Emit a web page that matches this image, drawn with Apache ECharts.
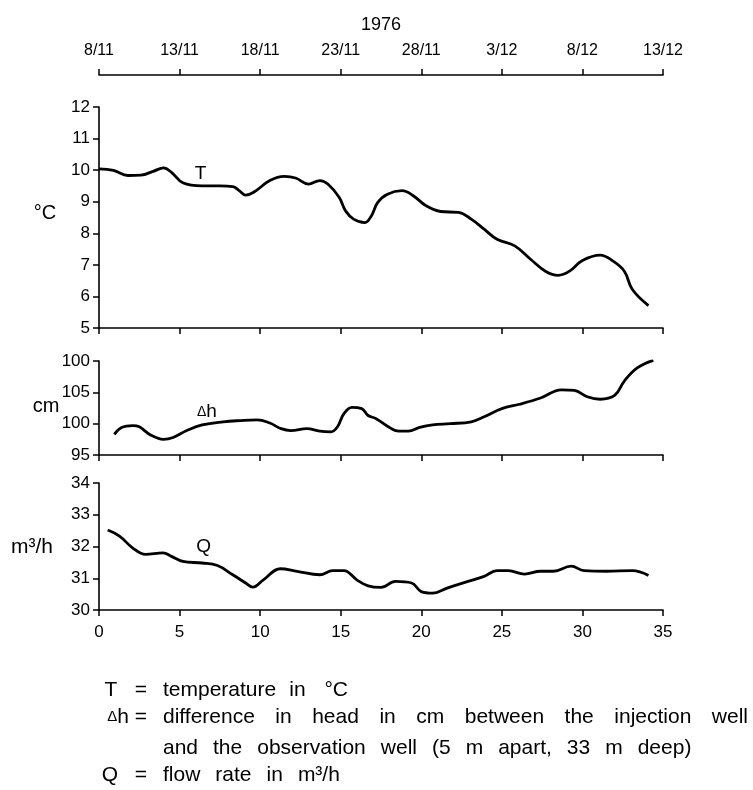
<!DOCTYPE html>
<html><head><meta charset="utf-8">
<script src="https://cdn.jsdelivr.net/npm/echarts@6/dist/echarts.min.js"></script>
<style>html,body{margin:0;padding:0;background:#fff}#c{width:753px;height:790px}</style>
</head><body><div id="c"></div>
<script>
// ---- data ----
const dateLabels = ['8/11','13/11','18/11','23/11','28/11','3/12','8/12','13/12'];
const dhTickLabels = ['95','100','105','100'];

const tDays = [0,0.9,1.8,2.6,3.4,4.0,4.5,5.2,6.4,7.5,8.3,8.7,9.1,9.6,10.6,11.5,12.2,13.0,13.7,14.2,14.9,15.3,15.8,16.5,16.9,17.3,17.9,18.8,19.5,20.3,21.2,22.3,23.1,23.9,24.7,25.8,26.8,27.7,28.5,29.2,30.0,31.1,31.9,32.6,33.1,34.1];
const tValues = [10.04,9.99,9.83,9.84,9.97,10.07,9.93,9.6,9.5,9.5,9.48,9.35,9.21,9.3,9.67,9.8,9.75,9.56,9.67,9.56,9.14,8.71,8.45,8.34,8.55,8.98,9.24,9.35,9.19,8.87,8.69,8.66,8.45,8.13,7.81,7.6,7.17,6.8,6.67,6.8,7.14,7.31,7.12,6.8,6.22,5.71];

const dhDays = [0.95,1.4,2.1,2.5,3.2,4.0,4.6,5.45,6.4,7.7,8.8,9.8,10.6,11.3,11.9,12.9,13.7,14.4,14.8,15.2,15.7,16.3,16.7,17.2,17.9,18.6,19.2,19.9,20.7,21.8,23.1,23.9,25.0,26.1,27.4,28.7,29.5,30.3,31.1,32.0,32.6,33.4,34.4];
const dhValues = [98.3,99.4,99.7,99.5,98.2,97.5,97.8,98.9,99.8,100.3,100.5,100.6,100.1,99.2,98.9,99.2,98.8,98.7,99.5,101.6,102.6,102.4,101.3,100.8,99.6,98.8,98.8,99.4,99.8,100.0,100.3,101.1,102.4,103.1,104.1,105.4,105.3,104.3,103.9,104.5,106.8,108.9,110.1];

const qDays = [0.54,1.27,2.08,2.89,3.97,4.5,5.2,6.4,7.35,8.3,9.1,9.55,10.2,11.25,12.3,13.7,14.5,15.2,16.0,16.7,17.5,18.4,19.4,20.0,20.7,21.6,22.9,23.9,24.7,25.4,26.4,27.4,28.2,29.3,30.1,31.5,33.1,34.1];
const qValues = [32.52,32.33,31.96,31.75,31.80,31.69,31.53,31.48,31.40,31.11,30.85,30.72,30.95,31.3,31.22,31.11,31.24,31.24,30.95,30.76,30.71,30.9,30.85,30.58,30.53,30.69,30.9,31.06,31.24,31.24,31.13,31.22,31.22,31.38,31.24,31.22,31.24,31.09];

// ---- chart ----
const FONT = '"Liberation Sans", Arial, sans-serif';
function pairs(xs, ys) { return xs.map((x, i) => [x, ys[i]]); }
const line = { lineStyle: { color: '#000', width: 1.6 } };
const tick = { show: true, length: 6, lineStyle: { color: '#000', width: 1.5 } };

function xAx(grid, extra) {
  return Object.assign({
    type: 'value', gridIndex: grid, min: 0, max: 35, interval: 5,
    axisLine: line, axisTick: tick, splitLine: { show: false },
    axisLabel: { show: false }
  }, extra || {});
}
function yAx(grid, min, max, interval, fmt) {
  return {
    type: 'value', gridIndex: grid, min: min, max: max, interval: interval,
    axisLine: Object.assign({ show: true }, line), axisTick: tick, splitLine: { show: false },
    axisLabel: { color: '#000', fontSize: 17, fontFamily: FONT, margin: 9, formatter: fmt }
  };
}
function curve(name, xi, yi, xs, ys, lbl, coord) {
  return {
    name: name, type: 'line', xAxisIndex: xi, yAxisIndex: yi,
    data: pairs(xs, ys), smooth: 0.4, showSymbol: false, symbol: 'none',
    lineStyle: { color: '#000', width: 2.8 }, animation: false, silent: true,
    markPoint: {
      symbol: 'circle', symbolSize: 1, itemStyle: { color: 'rgba(0,0,0,0)' }, silent: true,
      label: { show: true, position: 'inside', formatter: lbl, color: '#000', fontSize: 19, fontFamily: FONT,
        rich: { d: { fontSize: 14, fontFamily: FONT, color: '#000' }, n: { fontSize: 19, fontFamily: FONT, color: '#000' } } },
      data: [{ coord: coord }]
    }
  };
}

// legend layout helper (word placement)
const mctx = document.createElement('canvas').getContext('2d');
function words(list, x0, y, size, gap, justifyTo) {
  mctx.font = size + 'px ' + FONT;
  const w = list.map(s => mctx.measureText(s).width);
  let g = gap;
  if (justifyTo) {
    const tot = w.reduce((a, b) => a + b, 0);
    g = (justifyTo - x0 - tot) / (list.length - 1);
  }
  const out = []; let x = x0;
  list.forEach((s, i) => {
    out.push({ type: 'text', x: x, y: y, silent: true,
      style: { text: s, fontSize: size, fontFamily: FONT, fill: '#000', align: 'left', verticalAlign: 'middle' } });
    x += w[i] + g;
  });
  return out;
}
function txt(s, x, y, size, align, rich) {
  return { type: 'text', x: x, y: y, silent: true,
    style: { text: s, fontSize: size, fontFamily: FONT, fill: '#000', align: align || 'center', verticalAlign: 'middle', rich: rich } };
}

const LS = 21, GAP = 15, X0 = 163;
const graphics = [
  txt('°C', 45, 213, 20), txt('cm', 46, 406, 20), txt('m³/h', 32, 547, 21),
  txt('T', 111, 690, LS), txt('=', 141, 690, LS),
  txt('{d|Δ}h', 129, 717, LS, 'right', { d: { fontSize: 15, fontFamily: FONT, fill: '#000' } }), txt('=', 141, 717, LS),
  txt('Q', 110, 775, LS), txt('=', 141, 775, LS)
].concat(
  words(['temperature', 'in', ' °C'], X0, 690, LS, 13),
  words(['difference', 'in', 'head', 'in', 'cm', 'between', 'the', 'injection', 'well'], X0, 717, LS, GAP, 748),
  words(['and', 'the', 'observation', 'well', '(5', 'm', 'apart,', '33', 'm', 'deep)'], X0, 748, LS, GAP),
  words(['flow', 'rate', 'in', 'm³/h'], X0, 775, LS, GAP)
);

const option = {
  animation: false,
  backgroundColor: '#fff',
  grid: [
    { left: 99, width: 564, top: 107, height: 221 },
    { left: 99, width: 564, top: 361, height: 94 },
    { left: 99, width: 564, top: 483, height: 127 }
  ],
  xAxis: [
    xAx(0),
    xAx(0, { position: 'top', offset: 32,
      axisLabel: { show: true, color: '#000', fontSize: 16, fontFamily: FONT, margin: 16,
        formatter: v => dateLabels[Math.round(v / 5)] },
      name: '1976', nameLocation: 'middle', nameGap: 41,
      nameTextStyle: { color: '#000', fontSize: 18, fontFamily: FONT } }),
    xAx(1),
    xAx(2, { axisLabel: { show: true, color: '#000', fontSize: 17, fontFamily: FONT, margin: 14 } })
  ],
  yAxis: [
    yAx(0, 5, 12, 1),
    yAx(1, 95, 110, 5, v => dhTickLabels[Math.round((v - 95) / 5)]),
    yAx(2, 30, 34, 1)
  ],
  series: [
    curve('T', 0, 0, tDays, tValues, 'T', [6.3, 9.9]),
    curve('dh', 2, 1, dhDays, dhValues, '{d|Δ}{n|h}', [6.7, 101.9]),
    curve('Q', 3, 2, qDays, qValues, 'Q', [6.5, 32.0])
  ],
  graphic: graphics
};
const chart = echarts.init(document.getElementById('c'), null, { renderer: 'canvas' });
chart.setOption(option);
</script>
</body></html>
